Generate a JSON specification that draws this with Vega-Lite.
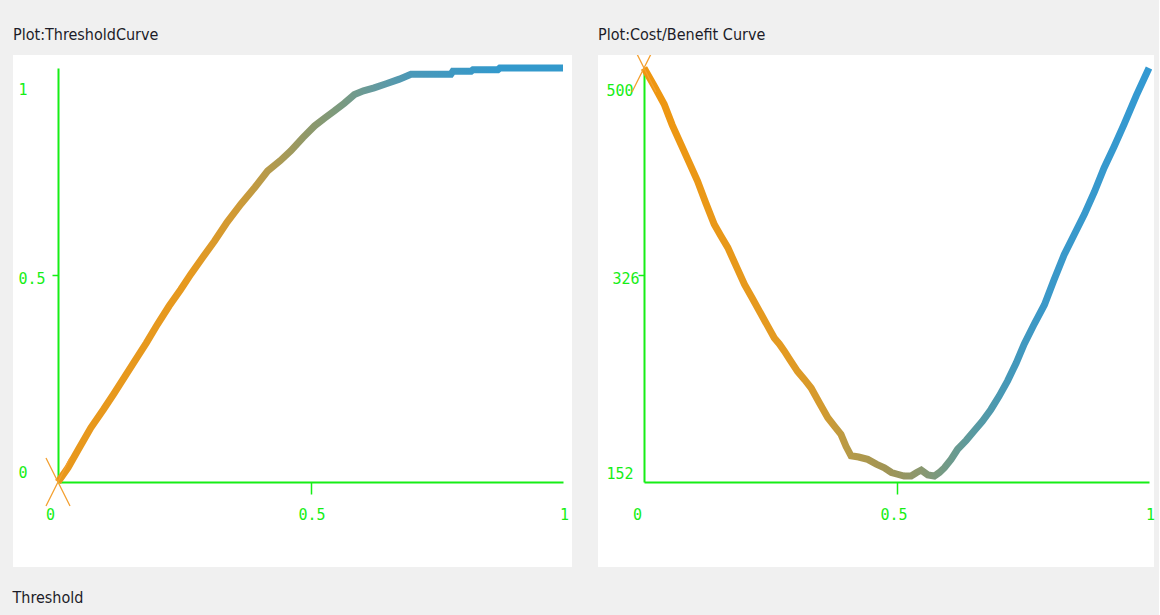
{
  "$schema": "https://vega.github.io/schema/vega-lite/v6.json",
  "padding": {"left": 12, "top": 27, "right": 4, "bottom": 0},
  "background": "#f0f0f0",
  "spacing": 22,
  "datasets": {
    "tc": [
      {"x": 0, "y": 0}, {"x": 0.02, "y": 0.035}, {"x": 0.04, "y": 0.078}, {"x": 0.065, "y": 0.131},
      {"x": 0.09, "y": 0.175}, {"x": 0.11, "y": 0.212}, {"x": 0.131, "y": 0.252}, {"x": 0.155, "y": 0.298},
      {"x": 0.175, "y": 0.336}, {"x": 0.197, "y": 0.381}, {"x": 0.22, "y": 0.425}, {"x": 0.243, "y": 0.465},
      {"x": 0.263, "y": 0.502}, {"x": 0.285, "y": 0.54}, {"x": 0.31, "y": 0.582}, {"x": 0.335, "y": 0.628},
      {"x": 0.362, "y": 0.671}, {"x": 0.39, "y": 0.712}, {"x": 0.415, "y": 0.751}, {"x": 0.44, "y": 0.776},
      {"x": 0.461, "y": 0.8}, {"x": 0.485, "y": 0.832}, {"x": 0.508, "y": 0.86}, {"x": 0.527, "y": 0.878},
      {"x": 0.547, "y": 0.896}, {"x": 0.567, "y": 0.915}, {"x": 0.587, "y": 0.936}, {"x": 0.605, "y": 0.945},
      {"x": 0.626, "y": 0.952}, {"x": 0.65, "y": 0.962}, {"x": 0.676, "y": 0.973}, {"x": 0.699, "y": 0.985},
      {"x": 0.778, "y": 0.985}, {"x": 0.782, "y": 0.992}, {"x": 0.818, "y": 0.992}, {"x": 0.822, "y": 0.996},
      {"x": 0.871, "y": 0.996}, {"x": 0.875, "y": 1.0}, {"x": 1.0, "y": 1.0}
    ],
    "cb": [
      {"x": 0, "y": 500}, {"x": 0.02, "y": 485}, {"x": 0.04, "y": 469.5}, {"x": 0.056, "y": 452},
      {"x": 0.073, "y": 436}, {"x": 0.09, "y": 420}, {"x": 0.106, "y": 405}, {"x": 0.122, "y": 387},
      {"x": 0.139, "y": 368.6}, {"x": 0.152, "y": 359}, {"x": 0.166, "y": 349}, {"x": 0.183, "y": 333},
      {"x": 0.199, "y": 318}, {"x": 0.215, "y": 306}, {"x": 0.232, "y": 293}, {"x": 0.245, "y": 283},
      {"x": 0.258, "y": 273}, {"x": 0.268, "y": 268}, {"x": 0.278, "y": 262}, {"x": 0.29, "y": 254},
      {"x": 0.304, "y": 245}, {"x": 0.318, "y": 238}, {"x": 0.331, "y": 231}, {"x": 0.348, "y": 218},
      {"x": 0.364, "y": 206}, {"x": 0.377, "y": 199}, {"x": 0.39, "y": 192}, {"x": 0.4, "y": 182},
      {"x": 0.41, "y": 174}, {"x": 0.425, "y": 173}, {"x": 0.443, "y": 171}, {"x": 0.46, "y": 167},
      {"x": 0.476, "y": 164}, {"x": 0.49, "y": 160}, {"x": 0.502, "y": 158.5}, {"x": 0.515, "y": 157},
      {"x": 0.529, "y": 157}, {"x": 0.54, "y": 160}, {"x": 0.549, "y": 162}, {"x": 0.562, "y": 158},
      {"x": 0.575, "y": 157}, {"x": 0.585, "y": 160}, {"x": 0.595, "y": 164}, {"x": 0.608, "y": 171},
      {"x": 0.621, "y": 179.5}, {"x": 0.638, "y": 187}, {"x": 0.654, "y": 195}, {"x": 0.67, "y": 203},
      {"x": 0.687, "y": 213}, {"x": 0.703, "y": 224}, {"x": 0.72, "y": 237}, {"x": 0.737, "y": 252},
      {"x": 0.753, "y": 268}, {"x": 0.773, "y": 285}, {"x": 0.793, "y": 301}, {"x": 0.812, "y": 322},
      {"x": 0.832, "y": 343}, {"x": 0.852, "y": 360}, {"x": 0.872, "y": 377}, {"x": 0.892, "y": 396},
      {"x": 0.911, "y": 416}, {"x": 0.931, "y": 434}, {"x": 0.951, "y": 453}, {"x": 0.975, "y": 477},
      {"x": 1.0, "y": 500}
    ]
  },
  "vconcat": [
    {
      "hconcat": [
        {
          "title": {"text": "Plot:ThresholdCurve"},
          "width": 559,
          "height": 512,
          "data": {"name": "tc"},
          "layer": [
            {
              "mark": {
                "type": "line",
                "strokeWidth": 7,
                "clip": true,
                "stroke": {
                  "gradient": "linear", "x1": 0, "y1": 0, "x2": 1, "y2": 0,
                  "stops": [
                    {"offset": 0, "color": "#e8981c"},
                    {"offset": 0.26, "color": "#e6991f"},
                    {"offset": 0.35, "color": "#d09a35"},
                    {"offset": 0.43, "color": "#b09a50"},
                    {"offset": 0.49, "color": "#909868"},
                    {"offset": 0.56, "color": "#7a9a80"},
                    {"offset": 0.63, "color": "#639aa0"},
                    {"offset": 0.7, "color": "#4a98b8"},
                    {"offset": 0.87, "color": "#3399cc"},
                    {"offset": 1, "color": "#3399cc"}
                  ]
                }
              },
              "encoding": {
                "x": {
                  "field": "x", "type": "quantitative",
                  "scale": {"domain": [0, 1], "range": [45, 550], "nice": false, "zero": false},
                  "axis": {
                    "values": [0, 0.5, 1], "format": "~g", "offset": -85,
                    "tickSize": 12,
                    "tickOpacity": {"condition": {"test": "datum.value == 0.5", "value": 1}, "value": 0},
                    "labelOffset": {"condition": {"test": "datum.value == 0", "value": -8}, "value": 1}
                  }
                },
                "y": {
                  "field": "y", "type": "quantitative",
                  "scale": {"domain": [0, 1], "range": [427, 13], "nice": false, "zero": false},
                  "axis": {
                    "values": [0, 0.5, 1], "format": "~g", "offset": -45,
                    "tickSize": 6, "labelAlign": "left", "labelPadding": 34,
                    "tickOpacity": {"condition": {"test": "datum.value == 0.5", "value": 1}, "value": 0},
                    "labelOffset": {"condition": [{"test": "datum.value == 1", "value": 21}, {"test": "datum.value == 0", "value": -10}], "value": 3}
                  }
                }
              }
            },
            {
              "transform": [{"filter": "datum.x == 0"}],
              "mark": {
                "type": "point",
                "shape": "M-0.5,-1L0.5,1M0.5,-1L-0.5,1",
                "size": 2304,
                "filled": false,
                "stroke": "#f4a030",
                "strokeWidth": 1.3,
                "opacity": 1,
                "clip": true
              },
              "encoding": {
                "x": {"field": "x", "type": "quantitative"},
                "y": {"field": "y", "type": "quantitative"}
              }
            }
          ]
        },
        {
          "title": {"text": "Plot:Cost/Benefit Curve"},
          "width": 556,
          "height": 512,
          "data": {"name": "cb"},
          "layer": [
            {
              "mark": {
                "type": "line",
                "strokeWidth": 7,
                "clip": true,
                "stroke": {
                  "gradient": "linear", "x1": 0, "y1": 0, "x2": 1, "y2": 0,
                  "stops": [
                    {"offset": 0, "color": "#ef960f"},
                    {"offset": 0.28, "color": "#e39a22"},
                    {"offset": 0.35, "color": "#d49a2e"},
                    {"offset": 0.41, "color": "#b59a48"},
                    {"offset": 0.48, "color": "#a09455"},
                    {"offset": 0.55, "color": "#8a9870"},
                    {"offset": 0.6, "color": "#709a88"},
                    {"offset": 0.65, "color": "#5a9aa0"},
                    {"offset": 0.72, "color": "#4598b8"},
                    {"offset": 0.79, "color": "#3b98c8"},
                    {"offset": 1, "color": "#3399d2"}
                  ]
                }
              },
              "encoding": {
                "x": {
                  "field": "x", "type": "quantitative",
                  "scale": {"domain": [0, 1], "range": [46, 551], "nice": false, "zero": false},
                  "axis": {
                    "values": [0, 0.5, 1], "format": "~g", "offset": -85,
                    "tickSize": 12,
                    "tickOpacity": {"condition": {"test": "datum.value == 0.5", "value": 1}, "value": 0},
                    "labelOffset": {"condition": [{"test": "datum.value == 0", "value": -7}, {"test": "datum.value == 0.5", "value": -3}], "value": 1}
                  }
                },
                "y": {
                  "field": "y", "type": "quantitative",
                  "scale": {"domain": [152, 500], "range": [427, 13], "nice": false, "zero": false},
                  "axis": {
                    "values": [152, 326, 500], "format": "d", "offset": -46,
                    "tickSize": 6, "labelAlign": "left",
                    "labelPadding": {"condition": {"test": "datum.value == 326", "value": 26}, "value": 32},
                    "tickOpacity": {"condition": {"test": "datum.value == 326", "value": 1}, "value": 0},
                    "labelOffset": {"condition": [{"test": "datum.value == 500", "value": 22}, {"test": "datum.value == 152", "value": -9}], "value": 3}
                  }
                }
              }
            },
            {
              "transform": [{"filter": "datum.x == 0"}],
              "mark": {
                "type": "point",
                "shape": "M-0.5,-1L0.5,1M0.5,-1L-0.5,1",
                "size": 2304,
                "filled": false,
                "stroke": "#f4a030",
                "strokeWidth": 1.3,
                "opacity": 1,
                "clip": true
              },
              "encoding": {
                "x": {"field": "x", "type": "quantitative"},
                "y": {"field": "y", "type": "quantitative"}
              }
            }
          ]
        }
      ],
      "spacing": 26,
      "bounds": "flush"
    },
    {
      "title": {"text": "Threshold", "offset": 2},
      "width": 1140,
      "height": 10,
      "view": {"fill": null, "stroke": null},
      "data": {"values": [{"a": 1}]},
      "mark": {"type": "rule", "opacity": 0},
      "encoding": {}
    }
  ],
  "config": {
    "view": {"fill": "white", "stroke": null},
    "title": {
      "anchor": "start",
      "font": "DejaVu Sans Condensed",
      "fontSize": 16,
      "fontWeight": "normal",
      "color": "#1c1c28",
      "baseline": "bottom",
      "offset": 12
    },
    "axis": {
      "title": null,
      "grid": false,
      "domainColor": "#16ee16",
      "domainWidth": 2,
      "tickColor": "#16ee16",
      "tickWidth": 1.5,
      "labelColor": "#16ee16",
      "labelFont": "DejaVu Sans Mono",
      "labelFontSize": 15,
      "labelOverlap": false,
      "labelFlush": false
    },
    "axisX": {"labelBaseline": "middle", "labelPadding": 20}
  }
}
